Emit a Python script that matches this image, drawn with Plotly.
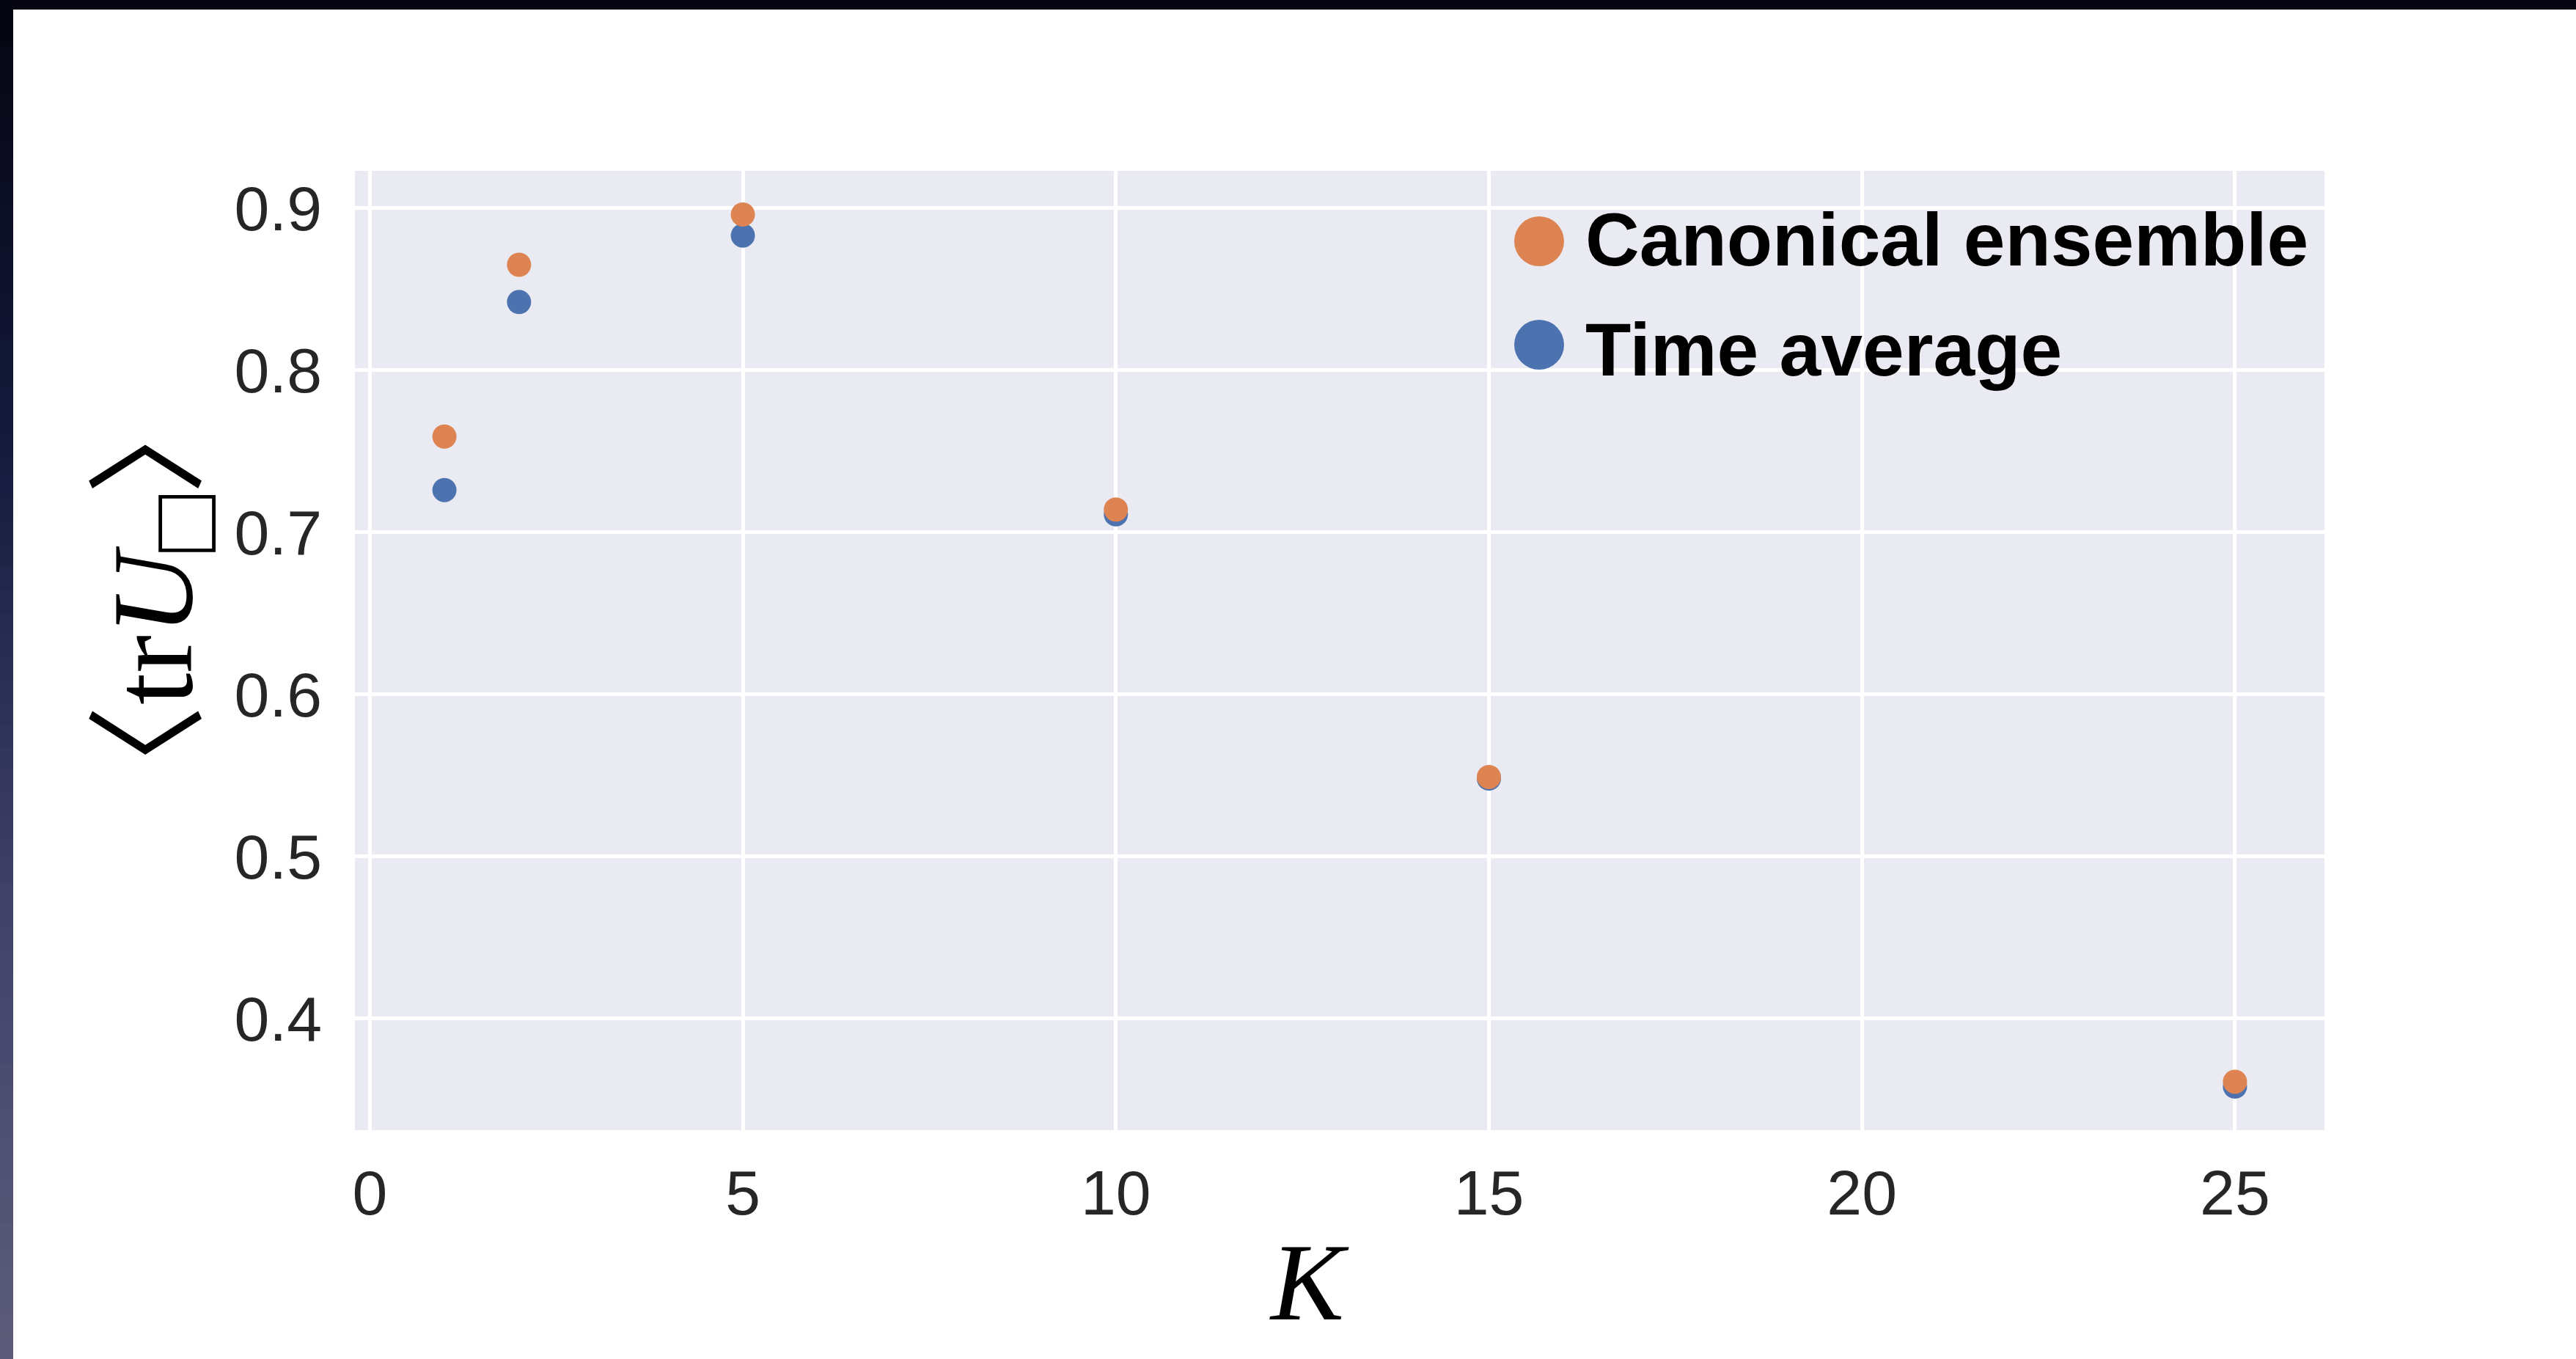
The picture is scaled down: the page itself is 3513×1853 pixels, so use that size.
import plotly.graph_objects as go

# K values and measured plaquette expectation values
K = [1, 2, 5, 10, 15, 25]
canonical = [0.759, 0.865, 0.896, 0.714, 0.549, 0.361]
time_avg = [0.726, 0.842, 0.883, 0.711, 0.548, 0.358]

x_ticks = [0, 5, 10, 15, 20, 25]
y_ticks = [0.4, 0.5, 0.6, 0.7, 0.8, 0.9]

series_names = ["Canonical ensemble", "Time average"]
ORANGE = "#dd8452"
BLUE = "#4c72b0"

W, H = 3513, 1853
L, R, T, B = 484, 3170, 233, 1541  # plot-area pixel box


def px_x(p):
    return (p - L) / (R - L)


def px_y(p):
    return (B - p) / (B - T)


fig = go.Figure()
fig.add_trace(go.Scatter(x=K, y=time_avg, mode="markers", name=series_names[1],
                         marker=dict(size=33, color=BLUE, line=dict(width=0)),
                         showlegend=False))
fig.add_trace(go.Scatter(x=K, y=canonical, mode="markers", name=series_names[0],
                         marker=dict(size=33, color=ORANGE, line=dict(width=0)),
                         showlegend=False))

tick_font = dict(family="Liberation Sans, Arial, sans-serif", size=86, color="#262626")
fig.update_layout(
    width=W, height=H,
    margin=dict(l=L, r=W - R, t=T, b=H - B, pad=0),
    paper_bgcolor="white",
    plot_bgcolor="#eaeaf2",
    xaxis=dict(range=[-0.2, 26.2], tickvals=x_ticks, ticktext=[str(v) for v in x_ticks],
               showgrid=True, gridcolor="white", gridwidth=4.5, zeroline=False,
               showline=False, ticks="", tickfont=tick_font, ticklabelstandoff=28),
    yaxis=dict(range=[0.3311, 0.9229], tickvals=y_ticks, ticktext=[f"{v:.1f}" for v in y_ticks],
               showgrid=True, gridcolor="white", gridwidth=4.5, zeroline=False,
               showline=False, ticks="", tickfont=tick_font, ticklabelstandoff=44),
)

shapes = []
annotations = []

# legend: large round swatches with bold labels
leg_x = 2099
for name, color, cy, ty in [(series_names[0], ORANGE, 329, 323), (series_names[1], BLUE, 470, 473)]:
    r = 34
    shapes.append(dict(type="circle", xref="paper", yref="paper",
                       x0=px_x(leg_x - r), x1=px_x(leg_x + r),
                       y0=px_y(cy + r), y1=px_y(cy - r),
                       fillcolor=color, line=dict(width=0)))
    annotations.append(dict(text=f"<b>{name}</b>", xref="paper", yref="paper",
                            x=px_x(2160), y=px_y(ty + 4), xanchor="left", yanchor="middle",
                            showarrow=False,
                            font=dict(family="Liberation Sans, Arial, sans-serif", size=102,
                                      color="black")))

# axis titles
annotations.append(dict(text="<i>K</i>", xref="paper", yref="paper",
                        x=px_x(1785), y=px_y(1748), xanchor="center", yanchor="middle",
                        showarrow=False,
                        font=dict(family="Liberation Serif, Times New Roman, serif", size=150,
                                  color="black")))
bracket = "<span style='font-family:Noto Sans CJK JP;font-size:165px'>%s</span>"
annotations.append(dict(text=bracket % "〈" + "tr<i>U</i>"
                             "<sub><span style='font-size:130px'>□</span></sub>"
                             + bracket % "〉",
                        xref="paper", yref="paper", textangle=-90,
                        x=px_x(196), y=px_y(818), xanchor="center", yanchor="middle",
                        showarrow=False,
                        font=dict(family="Liberation Serif, Times New Roman, serif", size=156,
                                  color="black")))

# dark frame along the top and a shaded strip down the left side
shapes.append(dict(type="rect", xref="paper", yref="paper", layer="above",
                   x0=px_x(0), x1=px_x(W), y0=px_y(13), y1=px_y(0),
                   fillcolor="#05040f", line=dict(width=0)))
stops = [(0, (5, 4, 15)), (600, (20, 26, 60)), (1200, (62, 64, 104)), (1853, (93, 93, 122))]


def strip_color(y):
    for (y0, c0), (y1, c1) in zip(stops[:-1], stops[1:]):
        if y0 <= y <= y1:
            t = (y - y0) / (y1 - y0)
            return "rgb(%d,%d,%d)" % tuple(round(a + (b - a) * t) for a, b in zip(c0, c1))
    return "rgb(%d,%d,%d)" % stops[-1][1]


n = 60
for i in range(n):
    ya, yb = H * i / n, H * (i + 1) / n
    shapes.append(dict(type="rect", xref="paper", yref="paper", layer="above",
                       x0=px_x(0), x1=px_x(18), y0=px_y(yb + 1), y1=px_y(ya),
                       fillcolor=strip_color((ya + yb) / 2), line=dict(width=0)))

fig.update_layout(shapes=shapes, annotations=annotations)
fig.write_html("out.html")
